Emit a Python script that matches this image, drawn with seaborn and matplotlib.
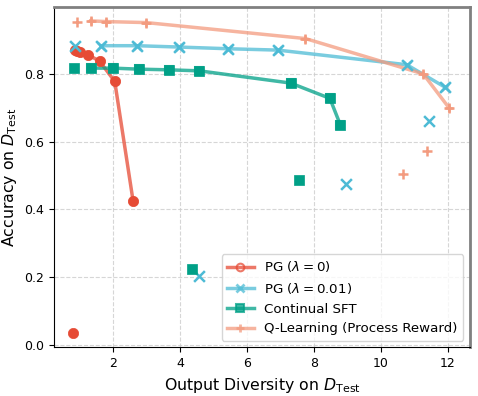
import numpy as np
import pandas as pd
import matplotlib
matplotlib.use("Agg")
import matplotlib.pyplot as plt
import seaborn as sns

# ── Data ──────────────────────────────────────────────────────────────────────
pg0_x = [0.85, 0.93, 1.0, 1.25, 1.6, 2.05, 2.6]
pg0_y = [0.870, 0.867, 0.863, 0.856, 0.836, 0.777, 0.424]
pg0_extra_x = [0.79]
pg0_extra_y = [0.038]

pg01_x = [1.65, 2.71, 3.98, 5.45, 6.93, 10.78, 11.92]
pg01_y = [0.882, 0.882, 0.878, 0.873, 0.869, 0.826, 0.760]
pg01_extra_x = [0.86, 4.58, 8.96, 11.44]
pg01_extra_y = [0.880, 0.204, 0.474, 0.661]

sft_x = [1.35, 1.99, 2.77, 3.66, 4.58, 7.31, 8.48, 8.79]
sft_y = [0.816, 0.816, 0.813, 0.811, 0.808, 0.772, 0.727, 0.650]
sft_extra_x = [0.83, 4.35, 7.57]
sft_extra_y = [0.816, 0.226, 0.487]

ql_x = [1.33, 1.78, 2.99, 7.75, 11.27, 12.05]
ql_y = [0.955, 0.953, 0.950, 0.903, 0.799, 0.698]
ql_extra_x = [0.93, 10.68, 11.39]
ql_extra_y = [0.953, 0.505, 0.571]

LABELS = ["PG ($\\lambda = 0$)", "PG ($\\lambda = 0.01$)", "Continual SFT",
          "Q-Learning (Process Reward)"]
COLORS = ["#E64B35", "#4DBBD5", "#00A087", "#F39B7F"]
MARKERS = ["o", "x", "s", "+"]

series = [
    (pg0_x, pg0_y, pg0_extra_x, pg0_extra_y),
    (pg01_x, pg01_y, pg01_extra_x, pg01_extra_y),
    (sft_x, sft_y, sft_extra_x, sft_extra_y),
    (ql_x, ql_y, ql_extra_x, ql_extra_y),
]

# ── Plot ──────────────────────────────────────────────────────────────────────
fig, ax = plt.subplots(figsize=(4.78, 3.96), dpi=100)

for (xs, ys, ex, ey), label, color, mk in zip(series, LABELS, COLORS, MARKERS):
    # connected frontier (faded line, used for the legend)
    line_df = pd.DataFrame({"x": xs, "y": ys})
    sns.lineplot(data=line_df, x="x", y="y", sort=False, ax=ax, color=color,
                 alpha=0.75, linewidth=2.5, marker=mk, markersize=5.5,
                 markeredgecolor=color, markerfacecolor="none" if mk == "o" else color,
                 markeredgewidth=2 if mk in ("x", "+") else 1.5,
                 label=label)
    # all checkpoints as solid markers
    pts_df = pd.DataFrame({"x": list(xs) + list(ex), "y": list(ys) + list(ey)})
    if mk in ("x", "+"):
        sns.scatterplot(data=pts_df, x="x", y="y", ax=ax, color=color,
                        marker=mk, s=60, linewidth=1.8, legend=False, zorder=3)
    else:
        sns.scatterplot(data=pts_df, x="x", y="y", ax=ax, color=color,
                        marker=mk, s=55, edgecolor=color, linewidth=0.5,
                        legend=False, zorder=3)

ax.set_xlim(0.235, 12.665)
ax.set_ylim(-0.0055, 0.9955)
ax.set_xlabel("Output Diversity on $D_{\\mathrm{Test}}$", fontsize=11.3)
ax.set_ylabel("Accuracy on $D_{\\mathrm{Test}}$", fontsize=11.3)
ax.tick_params(labelsize=9)
ax.grid(True, linestyle="--", color="#cccccc", alpha=0.8)
ax.set_axisbelow(True)
for side in ("top", "right"):
    ax.spines[side].set_color("#808080")
    ax.spines[side].set_linewidth(2)

ax.legend(loc="lower right", fontsize=9.6)

plt.subplots_adjust(left=0.113, right=0.983, top=0.982, bottom=0.123)
plt.savefig("out.png", dpi=100)
plt.close()
